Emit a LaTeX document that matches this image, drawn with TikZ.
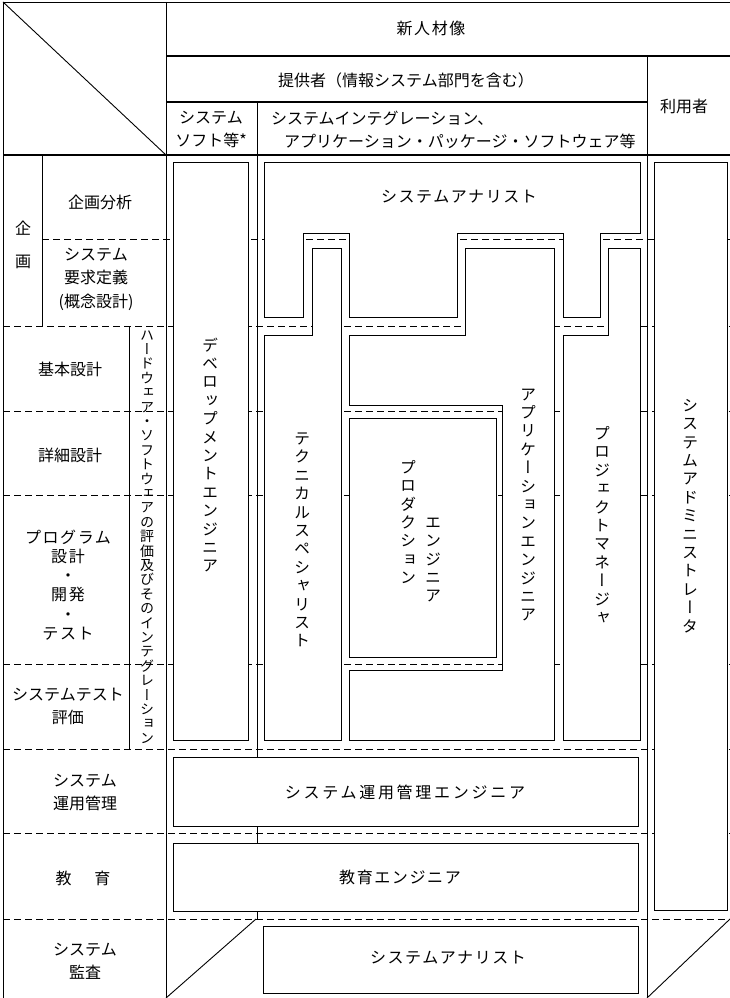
\documentclass[tikz,border=0pt]{standalone}
\usepackage{fontspec}
\newfontfamily\jp{Noto Sans CJK JP}
\newfontfamily\jpt[LetterSpace=10]{Noto Sans CJK JP}
\newfontfamily\jptt[LetterSpace=17]{Noto Sans CJK JP}
\newfontfamily\jpv[RawFeature=+vert]{Noto Sans CJK JP}
\begin{document}
\begin{tikzpicture}[x=1pt,y=-1pt]
\tikzset{
  box/.style={draw, fill=white, line width=0.9pt},
  rowline/.style={dash pattern=on 7pt off 4pt, line width=0.8pt},
  grid/.style={line width=0.9pt},
  hd/.style={line width=1.3pt},
  lbl/.style={font=\jp\fontsize{16}{23}\selectfont, align=center, inner sep=0pt},
  tlbl/.style={font=\jpt\fontsize{16}{23}\selectfont, align=center, inner sep=0pt},
  vlbl/.style={font=\jpv\fontsize{16}{18.4}\selectfont, align=center, inner sep=0pt},
  svlbl/.style={font=\jpv\fontsize{14}{14.4}\selectfont, align=center, inner sep=0pt},
}
\useasboundingbox (0,0) rectangle (730,998);
\fill[white] (0,0) rectangle (730,998);

% dashed row lines
\draw[rowline] (42,239) -- (730,239);
\foreach \yy in {326,411,495,664,749,833,919}
  \draw[rowline] (3,\yy) -- (730,\yy);

% grid lines
\draw[grid] (3,2) -- (730,2);
\draw[grid] (3,2) -- (3,998);
\draw[grid] (166,2) -- (166,998);
\draw[hd] (166,56) -- (730,56);
\draw[hd] (166,102) -- (647,102);
\draw[hd] (3,155) -- (730,155);
\draw[grid] (647,56) -- (647,998);
\draw[grid] (257,102) -- (257,919);
\draw[grid] (42,155) -- (42,326);
\draw[grid] (129,326) -- (129,749);
\draw[grid] (3,2) -- (166,155);
\draw[grid] (256,919) -- (166,998);
\draw[grid] (730,919) -- (647,998);

% boxes
\draw[box] (173,162) rectangle (248,740);
\draw[box] (264,162) -- (640,162) -- (640,233) -- (600,233) -- (600,317)
  -- (563,317) -- (563,233) -- (457,233) -- (457,317) -- (349,317)
  -- (349,233) -- (303,233) -- (303,317) -- (264,317) -- cycle;
\draw[box] (312,248) -- (341,248) -- (341,740) -- (264,740) -- (264,335)
  -- (312,335) -- cycle;
\draw[box] (465,248) -- (554,248) -- (554,740) -- (349,740) -- (349,670)
  -- (502,670) -- (502,405) -- (349,405) -- (349,335) -- (465,335) -- cycle;
\draw[box] (349,418) rectangle (496,657);
\draw[box] (608,248) -- (640,248) -- (640,740) -- (563,740) -- (563,335)
  -- (608,335) -- cycle;
\draw[box] (654,162) rectangle (727,910);
\draw[box] (173,757) rectangle (638,826);
\draw[box] (173,843) rectangle (638,911);
\draw[box] (263,926) rectangle (638,993);

% header texts
\node[tlbl] (h1) at (431,28) {新人材像};
\node[lbl] (h2) at (406,80) {提供者（情報システム部門を含む）};
\node[lbl] (h3) at (684,106) {利用者};
\node[lbl] (h4) at (211,129) {システム\\ソフト等*};
\node[lbl, anchor=west] (h5) at (271,118) {システムインテグレーション、};
\node[lbl, anchor=west] (h6) at (284,141) {アプリケーション・パッケージ・ソフトウェア等};

% row labels
\node[lbl] (r0a) at (23,228) {企};
\node[lbl] (r0b) at (23,262) {画};
\node[lbl] (r1) at (100,202) {企画分析};
\node[lbl, font=\jp\fontsize{16}{23.5}\selectfont] (r2) at (96,279) {システム\\要求定義\\(概念設計)};
\node[lbl] (r3) at (70,369) {基本設計};
\node[lbl] (r4) at (70,455) {詳細設計};
\node[tlbl, font=\jpt\fontsize{16}{19.2}\selectfont] (r5) at (68,585) {プログラム\\設計\\・\\開発\\・\\テスト};
\node[lbl] (r6) at (68,706) {システムテスト\\評価};
\node[lbl] (r7) at (85,793) {システム\\運用管理};
\node[lbl] (r8) at (83,878) {教\hspace{23pt}育};
\node[lbl] (r9) at (85,961) {システム\\監査};

% vertical labels
\node[svlbl] (hw) at (147,537) {ハ\\ー\\ド\\ウ\\ェ\\ア\\・\\ソ\\フ\\ト\\ウ\\ェ\\ア\\の\\評\\価\\及\\び\\そ\\の\\イ\\ン\\テ\\グ\\レ\\ー\\シ\\ョ\\ン};
\node[vlbl] (de) at (210,455) {デ\\ベ\\ロ\\ッ\\プ\\メ\\ン\\ト\\エ\\ン\\ジ\\ニ\\ア};
\node[vlbl] (ts) at (302,540) {テ\\ク\\ニ\\カ\\ル\\ス\\ペ\\シ\\ャ\\リ\\ス\\ト};
\node[vlbl] (pe1) at (408,522) {プ\\ロ\\ダ\\ク\\シ\\ョ\\ン};
\node[vlbl] (pe2) at (433,560) {エ\\ン\\ジ\\ニ\\ア};
\node[vlbl] (ae) at (528,505) {ア\\プ\\リ\\ケ\\ー\\シ\\ョ\\ン\\エ\\ン\\ジ\\ニ\\ア};
\node[vlbl] (pm) at (602,525) {プ\\ロ\\ジ\\ェ\\ク\\ト\\マ\\ネ\\ー\\ジ\\ャ};
\node[vlbl] (sad) at (690,516) {シ\\ス\\テ\\ム\\ア\\ド\\ミ\\ニ\\ス\\ト\\レ\\ー\\タ};

% box texts
\node[tlbl] (sa1) at (459,197) {システムアナリスト};
\node[tlbl, font=\jptt\fontsize{16}{23}\selectfont] (soe) at (405,792) {システム運用管理エンジニア};
\node[tlbl] (edu) at (400,877) {教育エンジニア};
\node[tlbl] (sa2) at (448,958) {システムアナリスト};
\end{tikzpicture}
\end{document}
